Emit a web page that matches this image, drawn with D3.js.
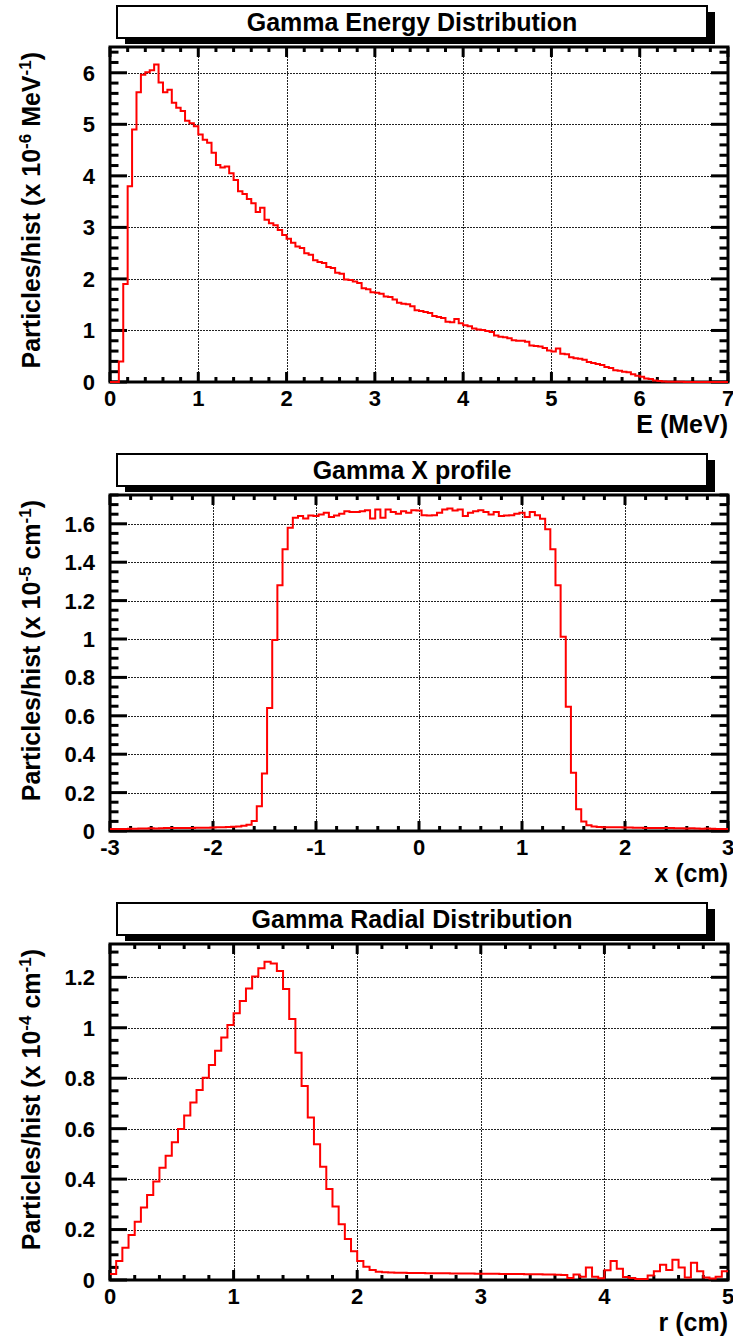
<!DOCTYPE html>
<html>
<head>
<meta charset="utf-8">
<script src="https://cdn.jsdelivr.net/npm/d3@7"></script>
<style>
  body { margin: 0; background: #fff; }
  svg { display: block; }
  text { font-family: "Liberation Sans", Arial, Helvetica, sans-serif; font-weight: bold; fill: #000; }
</style>
</head>
<body>
<svg id="chart" width="733" height="1340"></svg>
<script>
// --- energy histogram (MeV), bins of 0.05 starting at 0
const energyStart = 0;
const energyBinWidth = 0.05;
const energyValues = [
  0, 0, 0.40, 1.90, 3.80, 4.90, 5.62, 5.96, 6.01, 6.05,
  6.16, 5.81, 5.62, 5.67, 5.42, 5.32, 5.26, 5.07, 5.02, 4.96,
  4.80, 4.70, 4.64, 4.45, 4.21, 4.16, 4.18, 4.05, 3.92, 3.70,
  3.65, 3.55, 3.47, 3.30, 3.38, 3.15, 3.08, 3.04, 2.95, 2.85,
  2.78, 2.70, 2.63, 2.60, 2.50, 2.47, 2.36, 2.33, 2.31, 2.23,
  2.21, 2.12, 2.10, 1.99, 1.98, 1.95, 1.92, 1.82, 1.80, 1.74,
  1.73, 1.71, 1.66, 1.65, 1.60, 1.54, 1.52, 1.51, 1.47, 1.39,
  1.38, 1.36, 1.34, 1.28, 1.26, 1.24, 1.17, 1.16, 1.22, 1.14,
  1.10, 1.08, 1.04, 1.02, 1.01, 0.99, 0.97, 0.90, 0.88, 0.87,
  0.85, 0.81, 0.80, 0.80, 0.78, 0.71, 0.70, 0.69, 0.66, 0.61,
  0.59, 0.65, 0.55, 0.54, 0.48, 0.46, 0.45, 0.43, 0.39, 0.37,
  0.35, 0.33, 0.29, 0.27, 0.23, 0.22, 0.20, 0.19, 0.15, 0.12,
  0.10, 0.07, 0.06, 0.03, 0.02, 0.01, 0.005, 0.004, 0.003, 0.003,
  0.002, 0.002, 0.001, 0.001, 0, 0, 0, 0, 0, 0
];

// --- x profile (cm), bins of 0.05 centred on multiples of 0.05
const xprofStart = -3.025;
const xprofBinWidth = 0.05;
const xprofValues = [
  0.010, 0.010, 0.011, 0.011, 0.012, 0.012, 0.013, 0.013, 0.014, 0.013,
  0.014, 0.015, 0.015, 0.015, 0.016, 0.016, 0.016, 0.017, 0.017, 0.017,
  0.018, 0.019, 0.020, 0.021, 0.022, 0.024, 0.027,
  0.033, 0.052, 0.129, 0.300, 0.640, 0.995, 1.280, 1.467, 1.579, 1.631,
  1.640, 1.628, 1.643, 1.640, 1.648, 1.657, 1.635, 1.643, 1.652, 1.666,
  1.661, 1.662, 1.666, 1.671, 1.628, 1.674, 1.631, 1.674, 1.662, 1.652,
  1.666, 1.657, 1.671, 1.669, 1.645, 1.643, 1.645, 1.657, 1.674, 1.680,
  1.669, 1.674, 1.640, 1.657, 1.666, 1.671, 1.662, 1.648, 1.662, 1.640,
  1.643, 1.645, 1.652, 1.657, 1.635, 1.662, 1.645, 1.626,
  1.572, 1.468, 1.280, 1.012, 0.647, 0.303, 0.113, 0.050,
  0.030, 0.024, 0.021, 0.020, 0.020, 0.019, 0.019, 0.018, 0.018, 0.017,
  0.017, 0.016, 0.016, 0.016, 0.015, 0.015, 0.015, 0.014, 0.014, 0.013,
  0.014, 0.013, 0.012, 0.013, 0.012, 0.011, 0.011, 0.010
];

// --- radial distribution (cm), bins of 0.05 starting at 0
const radialStart = 0;
const radialBinWidth = 0.05;
const radialValues = [
  0.024, 0.075, 0.128, 0.178, 0.231, 0.287, 0.337, 0.390, 0.445, 0.493,
  0.546, 0.599, 0.652, 0.704, 0.753, 0.802, 0.852, 0.909, 0.961, 1.011,
  1.057, 1.106, 1.156, 1.203, 1.236, 1.262, 1.255, 1.225, 1.154, 1.035,
  0.901, 0.769, 0.644, 0.538, 0.449, 0.361, 0.291, 0.221, 0.163, 0.114,
  0.075, 0.053, 0.040, 0.033, 0.031, 0.030, 0.029, 0.029, 0.028, 0.028,
  0.028, 0.027, 0.027, 0.027, 0.027, 0.026, 0.026, 0.026, 0.026, 0.025,
  0.025, 0.025, 0.025, 0.024, 0.024, 0.024, 0.024, 0.023, 0.023, 0.023,
  0.022, 0.022, 0.021, 0.020, 0.008, 0.022, 0.013, 0.050, 0.013, 0.007,
  0.039, 0.075, 0.045, 0.012, 0.008, 0.004, 0.004, 0.018, 0.035, 0.060,
  0.040, 0.080, 0.050, 0.010, 0.068, 0.035, 0.010, 0.006, 0.013, 0.035
];

const titles = ["Gamma Energy Distribution", "Gamma X profile", "Gamma Radial Distribution"];
const xTitles = ["E (MeV)", "x (cm)", "r (cm)"];
const yUnitsExp = ["-6", "-5", "-4"];
const yUnitsName = ["MeV", "cm", "cm"];
const xDomains = [[0, 7], [-3, 3], [0, 5]];
const yDomains = [[0, 6.5], [0, 1.75], [0, 1.332]];
// major / minor tick counts passed to scale.ticks()
const xTickCounts = [[7, 35], [6, 30], [5, 25]];
const yTickCounts = [[7, 32], [9, 35], [7, 27]];

const svg = d3.select("#chart");

const frameL = 110, frameR = 728;
const frameTops = [47, 495, 944];
const frameBottoms = [382, 831, 1280];

const histos = [
  { start: energyStart, w: energyBinWidth, v: energyValues },
  { start: xprofStart, w: xprofBinWidth, v: xprofValues },
  { start: radialStart, w: radialBinWidth, v: radialValues }
];

const fmt = v => String(Math.round(v * 100) / 100);

histos.forEach((h, p) => {
  const top = frameTops[p], bottom = frameBottoms[p];
  const x = d3.scaleLinear().domain(xDomains[p]).range([frameL, frameR]);
  const y = d3.scaleLinear().domain(yDomains[p]).range([bottom, top]);
  const g = svg.append("g");

  // title box with shadow
  const bx = 117, bw = 590, bh = 32, by = top - 41;
  g.append("rect").attr("x", bx + 8).attr("y", by + 6).attr("width", bw).attr("height", bh).attr("fill", "#000");
  g.append("rect").attr("x", bx).attr("y", by).attr("width", bw).attr("height", bh)
    .attr("fill", "#fff").attr("stroke", "#000").attr("stroke-width", 2);
  g.append("text").attr("x", bx + bw / 2).attr("y", by + bh / 2 + 9)
    .attr("text-anchor", "middle").style("font-size", "25px").text(titles[p]);

  // grid
  const xMaj = x.ticks(xTickCounts[p][0]);
  const yMaj = y.ticks(yTickCounts[p][0]);
  const grid = g.append("g").attr("stroke", "#222").attr("stroke-width", 1)
    .attr("stroke-dasharray", "1.5,1.5").attr("shape-rendering", "crispEdges");
  grid.selectAll(".gx").data(xMaj.filter(t => t > xDomains[p][0] && t < xDomains[p][1])).enter().append("line")
    .attr("x1", d => Math.round(x(d)) + 0.5).attr("x2", d => Math.round(x(d)) + 0.5).attr("y1", top).attr("y2", bottom);
  grid.selectAll(".gy").data(yMaj.filter(t => t > yDomains[p][0])).enter().append("line")
    .attr("x1", frameL).attr("x2", frameR).attr("y1", d => Math.round(y(d)) + 0.5).attr("y2", d => Math.round(y(d)) + 0.5);

  // ticks on all four sides
  const xMin = x.ticks(xTickCounts[p][1]);
  const yMin = y.ticks(yTickCounts[p][1]);
  const tk = g.append("g").attr("stroke", "#000").attr("stroke-width", 3);
  xMin.forEach(t => {
    const len = xMaj.some(m => Math.abs(m - t) < 1e-9) ? 10 : 5;
    tk.append("line").attr("x1", x(t)).attr("x2", x(t)).attr("y1", bottom).attr("y2", bottom - len);
    tk.append("line").attr("x1", x(t)).attr("x2", x(t)).attr("y1", top).attr("y2", top + len);
  });
  yMin.forEach(t => {
    const len = yMaj.some(m => Math.abs(m - t) < 1e-9) ? 17 : 8.5;
    tk.append("line").attr("x1", frameL).attr("x2", frameL + len).attr("y1", y(t)).attr("y2", y(t));
    tk.append("line").attr("x1", frameR).attr("x2", frameR - len).attr("y1", y(t)).attr("y2", y(t));
  });

  // frame
  g.append("rect").attr("x", frameL).attr("y", top).attr("width", frameR - frameL).attr("height", bottom - top)
    .attr("fill", "none").attr("stroke", "#000").attr("stroke-width", 3);

  // tick labels
  g.selectAll(".lx").data(xMaj).enter().append("text")
    .attr("x", d => x(d)).attr("y", bottom + 24).attr("text-anchor", "middle")
    .style("font-size", "22px").text(fmt);
  g.selectAll(".ly").data(yMaj).enter().append("text")
    .attr("x", frameL - 15).attr("y", d => y(d)).attr("dy", "0.36em").attr("text-anchor", "end")
    .style("font-size", "22px").text(fmt);

  // axis titles
  g.append("text").attr("x", frameR).attr("y", bottom + 51).attr("text-anchor", "end")
    .style("font-size", "25px").text(xTitles[p]);
  const yt = g.append("text").attr("transform", `translate(40,${top + 5}) rotate(-90)`)
    .attr("text-anchor", "end").style("font-size", "25px");
  yt.append("tspan").text("Particles/hist (x 10");
  yt.append("tspan").attr("dy", -9).style("font-size", "17px").text(yUnitsExp[p]);
  yt.append("tspan").attr("dy", 9).text(" " + yUnitsName[p]);
  yt.append("tspan").attr("dy", -9).style("font-size", "17px").text("-1");
  yt.append("tspan").attr("dy", 9).text(")");

  // histogram outline
  const clipId = "clip" + p;
  svg.append("clipPath").attr("id", clipId).append("rect")
    .attr("x", frameL).attr("y", top - 2).attr("width", frameR - frameL).attr("height", bottom - top + 4);
  const pts = h.v.map((v, i) => [h.start + i * h.w, v]);
  pts.push([h.start + h.v.length * h.w, h.v[h.v.length - 1]]);
  const line = d3.line().x(d => x(d[0])).y(d => y(d[1])).curve(d3.curveStepAfter);
  g.append("path").datum(pts).attr("clip-path", `url(#${clipId})`)
    .attr("d", line).attr("fill", "none").attr("stroke", "#ff0000").attr("stroke-width", 2);
});
</script>
</body>
</html>
